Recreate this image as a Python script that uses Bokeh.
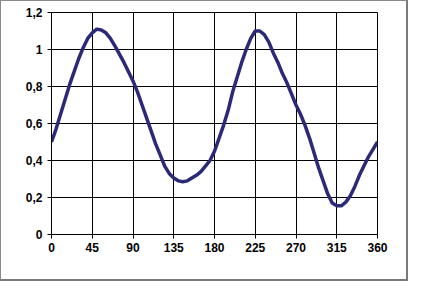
from bokeh.plotting import figure
from bokeh.models import Range1d, FixedTicker, CustomJSTickFormatter
from bokeh.embed import file_html
from bokeh.resources import INLINE

# angle (degrees) and value
angle = [0, 5, 10, 15, 20, 25, 30, 35, 40, 45, 50, 55, 60, 65, 70, 75, 80, 85, 90,
         95, 100, 105, 110, 115, 120, 125, 130, 135, 140, 145, 150, 155, 160, 165,
         170, 175, 180, 185, 190, 195, 200, 205, 210, 215, 220, 225, 230, 235, 240,
         245, 250, 255, 260, 265, 270, 275, 280, 285, 290, 295, 300, 305, 310, 315,
         320, 325, 330, 335, 340, 345, 350, 355, 360]
value = [0.50, 0.57, 0.65, 0.73, 0.81, 0.88, 0.95, 1.01, 1.06, 1.09, 1.11, 1.105, 1.09,
         1.06, 1.02, 0.975, 0.93, 0.88, 0.83, 0.77, 0.70, 0.63, 0.56, 0.49, 0.43,
         0.37, 0.33, 0.305, 0.29, 0.285, 0.29, 0.305, 0.32, 0.34, 0.37, 0.40, 0.45,
         0.52, 0.59, 0.67, 0.77, 0.85, 0.93, 1.00, 1.06, 1.10, 1.10, 1.08, 1.04,
         0.98, 0.93, 0.87, 0.82, 0.76, 0.70, 0.65, 0.59, 0.52, 0.44, 0.36, 0.29,
         0.22, 0.17, 0.155, 0.155, 0.175, 0.21, 0.26, 0.32, 0.37, 0.42, 0.46, 0.50]

x_ticks = [0, 45, 90, 135, 180, 225, 270, 315, 360]
y_ticks = [0, 0.2, 0.4, 0.6, 0.8, 1.0, 1.2]

p = figure(output_backend="svg", toolbar_location=None,
           x_range=Range1d(0, 360), y_range=Range1d(0, 1.2),
           frame_width=326, frame_height=222,
           min_border_left=50, min_border_right=29,
           min_border_top=11, min_border_bottom=45,
           background_fill_color="white", border_fill_color="white")
p.styles = {"border-left": "1px solid #8a8a8a", "border-top": "1px solid #8a8a8a",
            "border-right": "2px solid #7a7a7a", "border-bottom": "2px solid #7a7a7a"}

p.outline_line_color = "black"
p.outline_line_width = 1

p.xaxis.ticker = FixedTicker(ticks=x_ticks)
p.yaxis.ticker = FixedTicker(ticks=y_ticks)
p.yaxis.formatter = CustomJSTickFormatter(
    code="return tick.toFixed(1).replace('.0','').replace('.', ',');")

for ax in (p.xaxis, p.yaxis):
    ax.axis_line_color = "black"
    ax.axis_line_width = 1
    ax.major_tick_line_color = "black"
    ax.major_tick_out = 4
    ax.major_tick_in = 0
    ax.minor_tick_line_color = None
    ax.major_label_text_font = "Liberation Sans"
    ax.major_label_text_font_style = "bold"
    ax.major_label_text_font_size = "12px"
    ax.major_label_text_color = "black"
p.xaxis.major_label_standoff = 4
p.yaxis.major_label_standoff = 5

p.xgrid.ticker = FixedTicker(ticks=x_ticks)
p.ygrid.ticker = FixedTicker(ticks=y_ticks)
for g in (p.xgrid, p.ygrid):
    g.grid_line_color = "black"
    g.grid_line_width = 1
    g.grid_line_alpha = 1.0

p.line(angle, value, line_color="#2a2a78", line_width=3.5, line_join="round")

open("out.html", "w").write(file_html(p, INLINE))
